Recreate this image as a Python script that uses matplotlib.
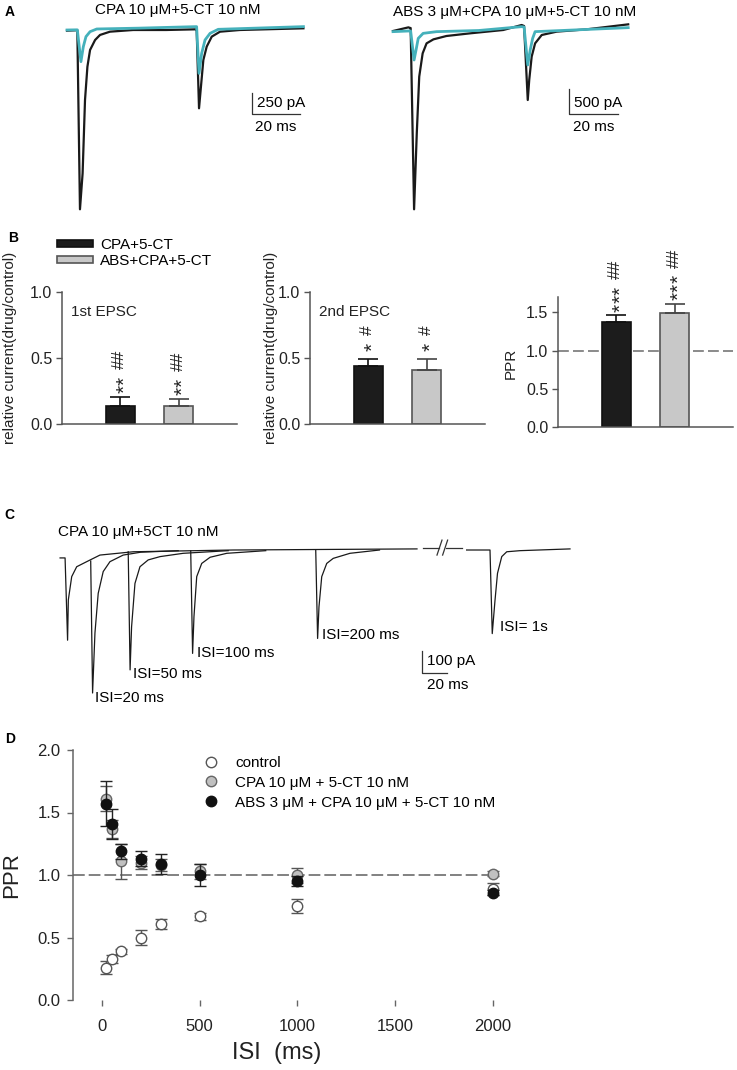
import matplotlib
matplotlib.use('Agg')
import matplotlib.pyplot as plt
import numpy as np

plt.rcParams['font.family'] = ['Liberation Sans', 'DejaVu Sans']

# ---- panel A: paired EPSC traces (time in ms, current in pA)
a1_t_black = [0, 4.0, 4.3, 5.4, 6.5, 7.5, 8.5, 9.6, 11.7, 13.75, 17.9, 27.6, 41.3, 53.7,
              54.0, 55.0, 55.8, 56.8, 58.2, 60.3, 63.75, 72.0, 98.5]
a1_i_black = [-20, -15, -15, -2146, -1718, -845, -449, -250, -131, -71, -32, -12, -12, -4,
              -4, -944, -687, -369, -210, -91, -32, -12, 8]
a1_t_cyan = [0, 4.0, 4.3, 5.8, 6.8, 7.9, 9.6, 12.4, 30.0, 53.7, 54.0, 55.0, 56.1, 57.5, 59.6, 63.0, 98.5]
a1_i_cyan = [-12, -10, -10, -389, -210, -91, -32, 0, 10, 28, 28, -528, -290, -131, -52, -4, 28]

a2_t_black = [0, 6.3, 7.0, 7.2, 8.6, 9.7, 10.7, 12.1, 13.7, 16.5, 21.8, 31.4, 45.0, 52.5,
              53.5, 55.0, 55.6, 56.6, 58.0, 60.7, 66.8, 79.0, 96.0]
a2_i_black = [-20, 53, 40, 40, -3586, -2067, -933, -467, -267, -187, -120, -67, 0, 100,
              80, -1400, -1000, -533, -267, -100, -33, 13, 113]
a2_t_cyan = [0, 6.3, 7.2, 8.6, 9.4, 10.3, 12.3, 17.8, 35.0, 52.5, 53.5, 55.0, 56.0, 57.0, 58.0, 96.0]
a2_i_cyan = [-33, -20, -20, -600, -400, -167, -67, -33, -10, 67, 60, -700, -400, -167, -33, 47]

# ---- panel B: bar values
b_groups = ['CPA+5-CT', 'ABS+CPA+5-CT']
b_first = [0.14, 0.14]
b_first_err = [0.065, 0.05]
b_first_stars = [2, 2]
b_first_hash = [2, 2]
b_second = [0.44, 0.41]
b_second_err = [0.05, 0.08]
b_second_stars = [1, 1]
b_second_hash = [1, 1]
b_ppr = [1.37, 1.49]
b_ppr_err = [0.09, 0.12]
b_ppr_stars = [3, 3]
b_ppr_hash = [2, 2]

# ---- panel C: overlaid sweeps with different ISI
c_t_first = [-4.5, -0.5, 1.5, 2.1, 4.8, 8.8, 16.8, 27.4, 54.0, 134.0, 281.0]
c_i_first = [-36, -36, -410, -227, -121, -76, -53, -23, -8, 0, 5]
c_t_20 = [20, 21.5, 23.4, 26, 30, 35.4, 46, 60, 90]
c_i_20 = [-50, -650, -377, -197, -98, -53, -23, -10, -3]
c_t_50 = [50, 51.5, 52.7, 55.4, 59.4, 66, 75.5, 94, 130]
c_i_50 = [-8, -545, -349, -152, -76, -45, -30, -15, -3]
c_t_100 = [100, 101.5, 102.6, 104.8, 108.8, 115.5, 128.8, 160]
c_i_100 = [-4, -470, -303, -121, -61, -33, -15, -3]
c_t_200 = [200, 201.5, 202.6, 204.8, 208.8, 214, 227.4, 251]
c_i_200 = [0, -402, -258, -121, -61, -38, -15, 0]
c_t_1s = [981.3, 999.0, 1000.0, 1001.8, 1004, 1006, 1009.4, 1013.4, 1024, 1064]
c_i_1s = [0, 0, 0, -380, -229, -106, -30, -8, -3, 5]
c_labels = ['ISI=20 ms', 'ISI=50 ms', 'ISI=100 ms', 'ISI=200 ms']

# ---- panel D: PPR vs ISI
d_isi = [20, 50, 100, 200, 300, 500, 1000, 2000]
d_ctrl = [0.26, 0.33, 0.39, 0.50, 0.61, 0.67, 0.75, 0.89]
d_ctrl_err = [0.05, 0.03, 0.02, 0.06, 0.04, 0.03, 0.055, 0.05]
d_cpa = [1.61, 1.37, 1.11, 1.10, 1.08, 1.03, 1.00, 1.01]
d_cpa_err = [0.10, 0.07, 0.14, 0.05, 0.05, 0.06, 0.06, 0.02]
d_abs = [1.57, 1.41, 1.19, 1.13, 1.09, 1.00, 0.95, 0.86]
d_abs_err = [0.18, 0.12, 0.06, 0.06, 0.08, 0.09, 0.04, 0.02]

W, H = 737, 1070
fig = plt.figure(figsize=(W / 100, H / 100), dpi=100)

CYAN = '#45b1bb'
TRACE = '#1a1a1a'
AXC = '#555555'


def px_axes(x0, y0, x1, y1):
    ax = fig.add_axes([x0 / W, 1 - y1 / H, (x1 - x0) / W, (y1 - y0) / H])
    ax.set_facecolor('none')
    return ax


def panel_label(x, y, s):
    fig.text(x / W, 1 - y / H, s, fontsize=10, weight='bold', ha='left', va='center')


# ================= A =================
ax = px_axes(60, 0, 320, 225)
ax.set_xlim(-2.92, 105.4)
ax.set_ylim(-2333, 345)
ax.axis('off')
ax.plot(a1_t_black, a1_i_black, color=TRACE, lw=1.6)
ax.plot(a1_t_cyan, a1_i_cyan, color=CYAN, lw=2.0)
ax.plot([77.1, 77.1, 97.1], [-762, -1012, -1012], color='#333', lw=0.9)
ax.text(79.2, -881, '250 pA', fontsize=11, ha='left', va='center')
ax.text(87.1, -1167, '20 ms', fontsize=11, ha='center', va='center')
ax.text(46.25, 226, 'CPA 10 \u03bcM+5-CT 10 nM', fontsize=11, ha='center', va='center')

ax = px_axes(385, 0, 650, 225)
ax.set_xlim(-3.27, 104.9)
ax.set_ylim(-3900, 600)
ax.axis('off')
ax.plot(a2_t_black, a2_i_black, color=TRACE, lw=1.6)
ax.plot(a2_t_cyan, a2_i_cyan, color=CYAN, lw=2.0)
ax.plot([71.8, 71.8, 91.8], [-1180, -1680, -1680], color='#333', lw=0.9)
ax.text(73.9, -1460, '500 pA', fontsize=11, ha='left', va='center')
ax.text(81.8, -1940, '20 ms', fontsize=11, ha='center', va='center')
ax.text(49.8, 360, 'ABS 3 \u03bcM+CPA 10 \u03bcM+5-CT 10 nM', fontsize=11, ha='center', va='center')

panel_label(5, 12, 'A')

# ================= B =================
bar_fc = ['#1c1c1c', '#c8c8c8']
bar_ec = ['#111111', '#555555']
err_c = ['#111111', '#444444']
STAR_STEP = 6.2  # points between stacked stars


def bar_panel(box, vals, errs, nstars, nhash, ymax, yticks, ylabel, ylab_x, ylab_y,
              gap=2.5, ref=None, inner=None):
    ax = px_axes(*box)
    ax.set_xlim(0, 3)
    ax.set_ylim(0, ymax)
    for s in ['top', 'right']:
        ax.spines[s].set_visible(False)
    for s in ['left', 'bottom']:
        ax.spines[s].set_color(AXC)
        ax.spines[s].set_linewidth(1.1)
    ax.set_xticks([])
    ax.set_yticks(yticks)
    ax.set_yticklabels(['%.1f' % v for v in yticks])
    ax.tick_params(axis='y', direction='out', length=4, width=1, color=AXC,
                   labelsize=11.5, pad=3, labelcolor='#222')
    if ref is not None:
        ax.axhline(ref, color='#777', lw=1.2, dashes=(6.5, 2.5), zorder=0)
    bars = []
    for i in range(2):
        b = ax.bar(i + 1, vals[i], width=0.5, color=bar_fc[i], edgecolor=bar_ec[i],
                   linewidth=1.2, zorder=2)
        bars.append(b[0])
        ax.errorbar(i + 1, vals[i], yerr=[[0], [errs[i]]], fmt='none', ecolor=err_c[i],
                    elinewidth=1.2, capsize=7, capthick=1.2, zorder=3)
        top = vals[i] + errs[i]
        for k in range(nstars[i]):
            ax.annotate('*', (i + 1, top), xytext=(3.0, gap + k * STAR_STEP),
                        textcoords='offset points', rotation=90, ha='center', va='bottom',
                        fontsize=15, color='#222', annotation_clip=False)
        ax.annotate('#' * nhash[i], (i + 1, top),
                    xytext=(-0.5, gap + STAR_STEP * nstars[i] + 5),
                    textcoords='offset points', rotation=90, ha='center', va='bottom',
                    fontsize=12.5, color='#222', annotation_clip=False)
    ax.text(ylab_x, ylab_y, ylabel, transform=ax.transAxes, rotation=90, fontsize=11,
            ha='center', va='center', color='#222')
    if inner is not None:
        ax.text(0.05, 0.85, inner, transform=ax.transAxes, fontsize=11, ha='left',
                va='center', color='#222')
    return ax, bars


ax1, bars = bar_panel((62, 292, 237, 424), b_first, b_first_err, b_first_stars, b_first_hash,
                      1.0, [0.0, 0.5, 1.0], 'relative current(drug/control)', -0.30, 0.58,
                      inner='1st EPSC')
bar_panel((310, 292, 485, 424), b_second, b_second_err, b_second_stars, b_second_hash, 1.0,
          [0.0, 0.5, 1.0], 'relative current(drug/control)', -0.22, 0.58, gap=6,
          inner='2nd EPSC')
bar_panel((558, 297, 733, 427), b_ppr, b_ppr_err, b_ppr_stars, b_ppr_hash, 1.7,
          [0.0, 0.5, 1.0, 1.5], 'PPR', -0.27, 0.49, ref=1.0)

fig.legend(bars, b_groups, loc='upper left', bbox_to_anchor=(57 / W, 1 - 238 / H),
           frameon=False, fontsize=11, handlelength=2.35, handleheight=0.35,
           handletextpad=0.45, labelspacing=0.15, borderpad=0, borderaxespad=0)
panel_label(8, 238, 'B')

# ================= C =================
axc = px_axes(50, 520, 470, 710)
axc.set_xlim(-12.56, 323.4)
axc.set_ylim(-727.3, 136.4)
axc.axis('off')
axc.plot(c_t_first, c_i_first, color=TRACE, lw=0.9)
for tt, ii in [(c_t_20, c_i_20), (c_t_50, c_i_50), (c_t_100, c_i_100), (c_t_200, c_i_200)]:
    axc.plot(tt, ii, color=TRACE, lw=0.9)
for lab, tx, iy in zip(c_labels, [23.4, 53.8, 105, 205], [-673, -564, -468, -386]):
    axc.text(tx, iy, lab, fontsize=11, ha='left', va='center')
axc.text(-6.2, 82, 'CPA 10 \u03bcM+5CT 10 nM', fontsize=11, ha='left', va='center')
# axis break
axc.plot([286, 298.5], [9, 9], color='#333', lw=0.9)
axc.plot([304.5, 317], [9, 9], color='#333', lw=0.9)
axc.plot([297, 301], [-23, 45], color='#333', lw=0.9)
axc.plot([301.5, 305.5], [-23, 45], color='#333', lw=0.9)
# scale bar
axc.plot([284.8, 284.8, 304.8], [-459, -559, -559], color='#333', lw=0.9)
axc.text(288.8, -505, '100 pA', fontsize=11, ha='left', va='center')
axc.text(305.8, -614, '20 ms', fontsize=11, ha='center', va='center')

axc2 = px_axes(462, 520, 600, 710)
axc2.set_xlim(977.6, 1088)
axc2.set_ylim(-727.3, 136.4)
axc2.axis('off')
axc2.plot(c_t_1s, c_i_1s, color=TRACE, lw=0.9)
axc2.text(1008, -350, 'ISI= 1s', fontsize=11, ha='left', va='center')

panel_label(4, 515, 'C')

# ================= D =================
axd = px_axes(73, 750, 493, 1000)
axd.set_xlim(-148, 2000)
axd.set_ylim(0, 2.0)
for s in ['top', 'right', 'bottom']:
    axd.spines[s].set_visible(False)
axd.spines['left'].set_color('#666')
axd.spines['left'].set_linewidth(1.1)
axd.set_xticks([0, 500, 1000, 1500, 2000])
axd.set_yticks([0.0, 0.5, 1.0, 1.5, 2.0])
axd.set_yticklabels(['0.0', '0.5', '1.0', '1.5', '2.0'])
axd.tick_params(axis='both', direction='out', length=4, width=1, color='#666',
                labelsize=12, labelcolor='#222')
axd.tick_params(axis='x', pad=10)
axd.tick_params(axis='y', pad=5)
axd.axhline(1.0, color='#777', lw=1.3, dashes=(6.5, 2.2), zorder=1)

series = [
    (d_ctrl, d_ctrl_err, 'white', '#555', '#555', 'control'),
    (d_cpa, d_cpa_err, '#c0c0c0', '#666', '#555', 'CPA 10 \u03bcM + 5-CT 10 nM'),
    (d_abs, d_abs_err, '#111111', '#111', '#222', 'ABS 3 \u03bcM + CPA 10 \u03bcM + 5-CT 10 nM'),
]
handles = []
for k, (vals, errs, fc, ec, erc, lab) in enumerate(series):
    axd.errorbar(d_isi, vals, yerr=errs, fmt='none', ecolor=erc, elinewidth=1,
                 capsize=4, capthick=1, zorder=2 + 2 * k, clip_on=False)
    ln, = axd.plot(d_isi, vals, 'o', ms=7.5, mfc=fc, mec=ec, mew=1, ls='none',
                   zorder=3 + 2 * k, clip_on=False, label=lab)
    handles.append(ln)

axd.legend(handles=handles, loc='upper left', bbox_to_anchor=(203 / W, 1 - 756 / H),
           bbox_transform=fig.transFigure, frameon=False, fontsize=11, handlelength=1.0,
           handletextpad=1.1, labelspacing=0.38, borderpad=0, borderaxespad=0)
axd.text(-0.145, 0.5, 'PPR', transform=axd.transAxes, rotation=90, fontsize=16,
         ha='center', va='center', color='#222')
axd.text(0.486, -0.212, 'ISI  (ms)', transform=axd.transAxes, fontsize=17,
         ha='center', va='center', color='#222')

panel_label(5, 739, 'D')

fig.savefig('out.png', dpi=100)
